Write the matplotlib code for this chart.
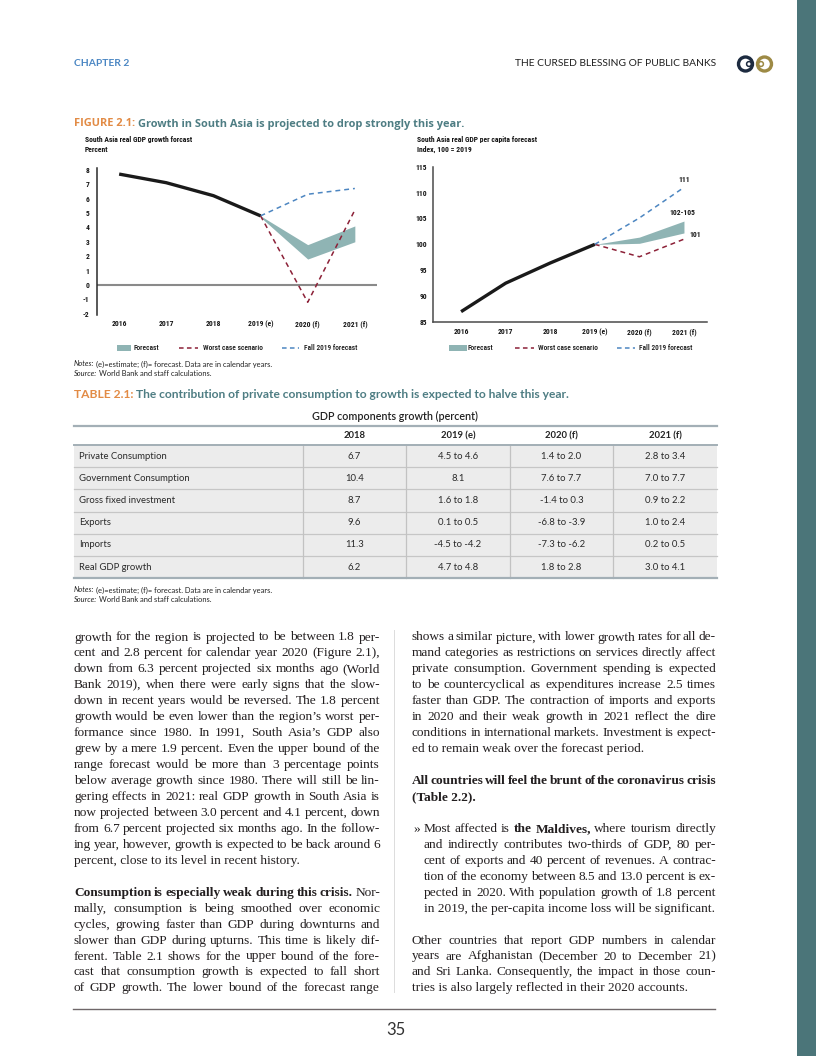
import matplotlib
matplotlib.use('Agg')
import matplotlib.pyplot as plt
from matplotlib import font_manager
from matplotlib.font_manager import FontProperties
from matplotlib.patches import Rectangle, Circle

W, H = 816, 1056

# ---------------- data ----------------
years = [2016, 2017, 2018, 2019, 2020, 2021]
year_labels = ['2016', '2017', '2018', '2019 (e)', '2020 (f)', '2021 (f)']

growth_actual = [7.7, 7.1, 6.2, 4.8]          # 2016-2019
growth_fc_low = [4.7, 1.8, 3.0]               # 2019-2021
growth_fc_high = [4.8, 2.8, 4.1]
growth_worst = [4.8, -1.2, 5.2]
growth_fall2019 = [4.8, 6.3, 6.7]
growth_yticks = [-2, -1, 0, 1, 2, 3, 4, 5, 6, 7, 8]

pc_actual = [87.0, 92.5, 96.4, 100.0]
pc_fc_low = [100.0, 100.2, 102.2]
pc_fc_high = [100.0, 101.4, 104.5]
pc_worst = [100.0, 97.6, 101.0]
pc_fall2019 = [100.0, 105.1, 111.0]
pc_yticks = [85, 90, 95, 100, 105, 110, 115]
pc_end_labels = ['111', '102-105', '101']

legend_labels = ['Forecast', 'Worst case scenario', 'Fall 2019 forecast']

table_cols = ['2018', '2019 (e)', '2020 (f)', '2021 (f)']
table_rows = ['Private Consumption', 'Government Consumption', 'Gross fixed investment',
              'Exports', 'Imports', 'Real GDP growth']
val_2018 = ['6.7', '10.4', '8.7', '9.6', '11.3', '6.2']
val_2019 = ['4.5 to 4.6', '8.1', '1.6 to 1.8', '0.1 to 0.5', '-4.5 to -4.2', '4.7 to 4.8']
val_2020 = ['1.4 to 2.0', '7.6 to 7.7', '-1.4 to 0.3', '-6.8 to -3.9', '-7.3 to -6.2', '1.8 to 2.8']
val_2021 = ['2.8 to 3.4', '7.0 to 7.7', '0.9 to 2.2', '1.0 to 2.4', '0.2 to 0.5', '3.0 to 4.1']

left_par1 = [
    "growth for the region is projected to be between 1.8 per-",
    "cent and 2.8 percent for calendar year 2020 (Figure 2.1),",
    "down from 6.3 percent projected six months ago (World",
    "Bank 2019), when there were early signs that the slow-",
    "down in recent years would be reversed. The 1.8 percent",
    "growth would be even lower than the region\u2019s worst per-",
    "formance since 1980. In 1991, South Asia\u2019s GDP also",
    "grew by a mere 1.9 percent. Even the upper bound of the",
    "range forecast would be more than 3 percentage points",
    "below average growth since 1980. There will still be lin-",
    "gering effects in 2021: real GDP growth in South Asia is",
    "now projected between 3.0 percent and 4.1 percent, down",
    "from 6.7 percent projected six months ago. In the follow-",
    "ing year, however, growth is expected to be back around 6",
    "percent, close to its level in recent history.",
]
left_par2 = [
    "**Consumption is especially weak during this crisis.** Nor-",
    "mally, consumption is being smoothed over economic",
    "cycles, growing faster than GDP during downturns and",
    "slower than GDP during upturns. This time is likely dif-",
    "ferent. Table 2.1 shows for the upper bound of the fore-",
    "cast that consumption growth is expected to fall short",
    "of GDP growth. The lower bound of the forecast range",
]
right_par1 = [
    "shows a similar picture, with lower growth rates for all de-",
    "mand categories as restrictions on services directly affect",
    "private consumption. Government spending is expected",
    "to be countercyclical as expenditures increase 2.5 times",
    "faster than GDP. The contraction of imports and exports",
    "in 2020 and their weak growth in 2021 reflect the dire",
    "conditions in international markets. Investment is expect-",
    "ed to remain weak over the forecast period.",
]
right_par2 = [
    "**All countries will feel the brunt of the coronavirus crisis**",
    "**(Table 2.2).**",
]
right_bullet = [
    "Most affected is **the Maldives,** where tourism directly",
    "and indirectly contributes two-thirds of GDP, 80 per-",
    "cent of exports and 40 percent of revenues. A contrac-",
    "tion of the economy between 8.5 and 13.0 percent is ex-",
    "pected in 2020. With population growth of 1.8 percent",
    "in 2019, the per-capita income loss will be significant.",
]
right_par3 = [
    "Other countries that report GDP numbers in calendar",
    "years are Afghanistan (December 20 to December 21)",
    "and Sri Lanka. Consequently, the impact in those coun-",
    "tries is also largely reflected in their 2020 accounts.",
]

# ---------------- fonts ----------------
entries = font_manager.fontManager.ttflist
names = {f.name for f in entries}


def pick(cands, default):
    for c in cands:
        if c in names:
            return c
    return default


if 'Liberation Sans Narrow' in names:
    COND, CSTR = 'Liberation Sans Narrow', 'normal'
elif 'Roboto Condensed' in names:
    COND, CSTR = 'Roboto Condensed', 'normal'
elif any(f.name == 'DejaVu Sans' and 'condensed' in str(f.stretch) for f in entries):
    COND, CSTR = 'DejaVu Sans', 'condensed'
else:
    COND, CSTR = pick(['Roboto', 'Lato'], 'DejaVu Sans'), 'normal'
SANS = pick(['Lato', 'Open Sans', 'Noto Sans'], 'DejaVu Sans')
TITLE = pick(['Open Sans', 'Lato'], 'DejaVu Sans')
SERIF = pick(['Liberation Serif', 'DejaVu Serif'], 'DejaVu Serif')

ORANGE = '#e28b45'
TEAL = '#4e7d83'
INK = '#231f20'
BAND = '#8fb4b4'
WORST = '#8c2138'
FALL = '#4d86c1'
CTXT = '#151515'

# ---------------- figure / page ----------------
fig = plt.figure(figsize=(W / 100, H / 100), dpi=100)
fig.patch.set_facecolor('white')
page = fig.add_axes([0, 0, 1, 1])
page.set_xlim(0, W)
page.set_ylim(H, 0)
page.axis('off')
R = fig.canvas.get_renderer()


def tw(t):
    return t.get_window_extent(R).width


_sp = {}


def space_w(size, fam, weight, stretch):
    key = (round(size, 3), fam, weight, stretch)
    if key not in _sp:
        a = page.text(0, 0, 'x x', fontsize=size, family=fam, weight=weight, stretch=stretch)
        b = page.text(0, 0, 'xx', fontsize=size, family=fam, weight=weight, stretch=stretch)
        _sp[key] = tw(a) - tw(b)
        a.remove()
        b.remove()
    return _sp[key]


def group_tokens(tokens):
    out = []
    for w, kw in tokens:
        if out and out[-1][1] == kw:
            out[-1] = (out[-1][0] + ' ' + w, kw)
        else:
            out.append((w, dict(kw)))
    return out


def draw_words(x, y, tokens, size, fam, color=INK, x1=None, justify=False, fit=None,
               ha='left', va='baseline', stretch='normal'):
    if not justify:
        tokens = group_tokens(tokens)

    def make(sz):
        objs = []
        for w, kw in tokens:
            objs.append(page.text(0, y, w, fontsize=sz, family=fam, stretch=stretch,
                                  weight=kw.get('weight', 'normal'),
                                  style=kw.get('style', 'normal'),
                                  color=kw.get('color', color), va=va, ha='left'))
        return objs

    def measure(objs, sz):
        widths = [tw(t) for t in objs]
        sps = [space_w(sz, fam, kw.get('weight', 'normal'), stretch) for _, kw in tokens]
        return widths, sps, sum(widths) + sum(sps[1:])

    objs = make(size)
    widths, sps, natural = measure(objs, size)
    if fit:
        for t in objs:
            t.remove()
        size = size * fit / natural
        objs = make(size)
        widths, sps, natural = measure(objs, size)
    if justify and len(objs) > 1:
        g = (x1 - x - sum(widths)) / (len(objs) - 1)
        gaps = [g] * (len(objs) - 1)
        total = x1 - x
    else:
        gaps = sps[1:]
        total = natural
    cx = x - total if ha == 'right' else (x - total / 2 if ha == 'center' else x)
    for i, (t, w) in enumerate(zip(objs, widths)):
        t.set_x(cx)
        cx += w + (gaps[i] if i < len(gaps) else 0)
    return size


def parse(line, extra=None):
    toks = []
    for i, seg in enumerate(line.split('**')):
        for w in seg.split():
            kw = {'weight': 'bold' if i % 2 else 'normal'}
            if extra:
                kw.update(extra)
            toks.append((w, kw))
    return toks


def px_axes(l, t, r, b):
    return fig.add_axes([l / W, 1 - b / H, (r - l) / W, (b - t) / H])


# ---------------- page decorations ----------------
page.add_patch(Rectangle((797, 0), W - 797, H, color='#4b7579', lw=0))
draw_words(74, 64, [('CHAPTER', {'weight': 'bold'}), ('2', {'weight': 'bold'})], 7, SANS,
           color='#4a86c3', fit=55, va='center')
draw_words(716, 64, parse('THE CURSED BLESSING OF PUBLIC BANKS'), 7, SANS,
           color='#1f1f1f', fit=202, ha='right', va='center')
page.add_patch(Circle((745.5, 64), 7.0, fill=False, ec='#1d2b40', lw=2.4))
page.add_patch(Circle((764.5, 64), 7.0, fill=False, ec='#9d8a45', lw=2.4))
page.add_patch(Circle((749, 64), 2.4, fill=False, ec='#1d2b40', lw=1.1))
page.add_patch(Circle((761, 64), 2.4, fill=False, ec='#9d8a45', lw=1.1))

# figure title
ttl = [('FIGURE 2.1:', {'color': ORANGE, 'weight': 'bold'}),
       ('Growth in South Asia is projected to drop strongly this year.', {'color': TEAL, 'weight': 'bold'})]
draw_words(74, 124, ttl, 8, TITLE, fit=389, va='center')

# chart subtitles
ssz = draw_words(85, 139.5, parse('South Asia real GDP growth forcast', {'weight': 'bold'}), 7, COND,
                 stretch=CSTR, fit=109, va='center', color=CTXT)
draw_words(85, 149, parse('Percent', {'weight': 'bold'}), ssz, COND, stretch=CSTR, va='center',
           color=CTXT)
draw_words(417, 139.5, parse('South Asia real GDP per capita forecast', {'weight': 'bold'}), ssz, COND,
           stretch=CSTR, va='center', color=CTXT)
draw_words(417, 149, parse('Index, 100 = 2019', {'weight': 'bold'}), ssz, COND, stretch=CSTR,
           va='center', color=CTXT)

# legends (drawn on page)
LW = 'medium'
CS = draw_words(203, 347.5, parse(legend_labels[1], {'weight': LW}), 7, COND, stretch=CSTR, fit=59.5,
                va='center', color=CTXT)
draw_words(134, 347.5, parse(legend_labels[0], {'weight': LW}), CS, COND, stretch=CSTR, va='center', color=CTXT)
draw_words(304, 347.5, parse(legend_labels[2], {'weight': LW}), CS, COND, stretch=CSTR, va='center', color=CTXT)
page.add_patch(Rectangle((117, 344.5), 14, 6, color=BAND, lw=0))
page.plot([179, 198], [347.5, 347.5], color=WORST, lw=1.1, dashes=(3, 2.2))
page.plot([282, 299], [347.5, 347.5], color=FALL, lw=1.1, dashes=(3, 2.2))

draw_words(468, 348, parse(legend_labels[0], {'weight': LW}), CS, COND, stretch=CSTR, va='center', color=CTXT)
draw_words(538, 348, parse(legend_labels[1], {'weight': LW}), CS, COND, stretch=CSTR, va='center', color=CTXT)
draw_words(639, 348, parse(legend_labels[2], {'weight': LW}), CS, COND, stretch=CSTR, va='center', color=CTXT)
page.add_patch(Rectangle((449, 345), 18, 6, color=BAND, lw=0))
page.plot([515, 534], [348, 348], color=WORST, lw=1.1, dashes=(3, 2.2))
page.plot([617, 635], [348, 348], color=FALL, lw=1.1, dashes=(3, 2.2))

# figure notes
NS = draw_words(74, 364, [('Notes:', {'style': 'italic'})] + parse('(e)=estimate; (f)= forecast. Data are in calendar years.'),
                6, SANS, fit=200, va='center', color='#222222')
draw_words(74, 373, [('Source:', {'style': 'italic'})] + parse('World Bank and staff calculations.'),
           NS, SANS, va='center', color='#222222')

# ---------------- chart fonts ----------------
probe = page.text(0, 0, '2019 (e)', fontsize=10, family=COND, stretch=CSTR, weight='bold')
TK = 10 * 25.5 / tw(probe)
probe.remove()
cfp = FontProperties(family=COND, stretch=CSTR, size=TK, weight='bold')

# ---------------- left chart ----------------
ax1 = px_axes(97, 167.6, 377, 314.5)
ax1.set_facecolor('none')
ax1.set_xlim(2015.53, 2021.47)
ax1.set_ylim(-2.05, 8.15)
for s in ['top', 'right', 'bottom']:
    ax1.spines[s].set_visible(False)
ax1.spines['left'].set_color('#2a2a2a')
ax1.spines['left'].set_linewidth(1.1)
ax1.axhline(0, color='#8a8a8a', lw=1.5, zorder=1)
ax1.fill_between(years[3:], growth_fc_low, growth_fc_high, color=BAND, lw=0, zorder=2)
ax1.plot(years[:4], growth_actual, color='#1a1a1a', lw=2.4, zorder=4, solid_capstyle='butt')
ax1.plot(years[3:], growth_worst, color=WORST, lw=1.1, dashes=(3.2, 2.6), zorder=3)
ax1.plot(years[3:], growth_fall2019, color=FALL, lw=1.1, dashes=(3.2, 2.6), zorder=3)
ax1.set_xticks(years)
ax1.set_xticklabels(year_labels, fontproperties=cfp, color=CTXT)
ax1.set_yticks(growth_yticks)
ax1.set_yticklabels([str(v) for v in growth_yticks], fontproperties=cfp, color=CTXT)
ax1.tick_params(axis='x', length=0, pad=4.0)
ax1.tick_params(axis='y', length=0, pad=5.5)

# ---------------- right chart ----------------
ax2 = px_axes(433, 166.7, 706.7, 322)
ax2.set_facecolor('none')
ax2.set_xlim(2015.37, 2021.51)
ax2.set_ylim(85, 115)
for s in ['top', 'right']:
    ax2.spines[s].set_visible(False)
for s in ['left', 'bottom']:
    ax2.spines[s].set_color('#4a4a4a')
    ax2.spines[s].set_linewidth(1.1)
ax2.fill_between(years[3:], pc_fc_low, pc_fc_high, color=BAND, lw=0, zorder=2)
ax2.plot(years[:4], pc_actual, color='#1a1a1a', lw=2.4, zorder=4, solid_capstyle='butt')
ax2.plot(years[3:], pc_worst, color=WORST, lw=1.1, dashes=(3.2, 2.6), zorder=3)
ax2.plot(years[3:], pc_fall2019, color=FALL, lw=1.1, dashes=(3.2, 2.6), zorder=3)
ax2.set_xticks(years)
ax2.set_xticklabels(year_labels, fontproperties=cfp, color=CTXT)
ax2.set_yticks(pc_yticks)
ax2.set_yticklabels([str(v) for v in pc_yticks], fontproperties=cfp, color=CTXT)
ax2.tick_params(axis='x', length=0, pad=4.5)
ax2.tick_params(axis='y', length=0, pad=4.5)
ax2.annotate(pc_end_labels[0], (years[-1], pc_fall2019[-1]), xytext=(0, 3.5), textcoords='offset points',
             ha='center', va='bottom', fontproperties=cfp, color=CTXT)
ax2.annotate(pc_end_labels[1], (years[-1], pc_fc_high[-1]), xytext=(-1, 3.5), textcoords='offset points',
             ha='center', va='bottom', fontproperties=cfp, color=CTXT)
ax2.annotate(pc_end_labels[2], (years[-1], pc_worst[-1]), xytext=(4, 1), textcoords='offset points',
             ha='left', va='bottom', fontproperties=cfp, color=CTXT)

# ---------------- table ----------------
tt = [('TABLE 2.1:', {'color': ORANGE, 'weight': 'bold'}),
      ('The contribution of private consumption to growth is expected to halve this year.',
       {'color': TEAL, 'weight': 'bold'})]
draw_words(74, 395, tt, 8, SANS, fit=497, va='center')
draw_words(395, 416, parse('GDP components growth (percent)', {'weight': 'semibold'}), 7.5, SANS,
           fit=164, ha='center', va='center', color='#222222')

col_edges = [74, 303, 406, 510, 613, 717]
row_top, row_h = 445.0, 22.2
tbot = row_top + row_h * len(table_rows)
page.add_patch(Rectangle((74, row_top), 717 - 74, tbot - row_top, color='#ececec', lw=0))
for k in range(1, len(table_rows)):
    yy = row_top + k * row_h
    page.plot([74, 717], [yy, yy], color='#c6c6c6', lw=0.9)
for xe in col_edges[1:-1]:
    page.plot([xe, xe], [row_top, tbot], color='#c2c2c2', lw=0.9)
page.plot([74, 717], [426, 426], color='#a3afb6', lw=1.6)
page.plot([74, 717], [row_top, row_top], color='#a3afb6', lw=1.4)
page.plot([74, 717], [tbot, tbot], color='#a3afb6', lw=1.6)

probe = page.text(0, 0, table_rows[1], fontsize=10, family=SANS)
TS = 10 * 110.7 / tw(probe)
probe.remove()
centers = [(col_edges[i] + col_edges[i + 1]) / 2 for i in range(1, 5)]
for c, lab in zip(centers, table_cols):
    page.text(c, 435.5, lab, fontsize=TS, family=SANS, weight='bold', ha='center', va='center',
              color='#222222')
cols_vals = [val_2018, val_2019, val_2020, val_2021]
for i, lab in enumerate(table_rows):
    yc = row_top + (i + 0.5) * row_h
    page.text(79, yc, lab, fontsize=TS, family=SANS, ha='left', va='center', color='#2a2a2a')
    for c, vals in zip(centers, cols_vals):
        page.text(c, yc, vals[i], fontsize=TS, family=SANS, ha='center', va='center', color='#2a2a2a')

draw_words(74, 590, [('Notes:', {'style': 'italic'})] + parse('(e)=estimate; (f)= forecast. Data are in calendar years.'),
           NS, SANS, va='center', color='#222222')
draw_words(74, 599.5, [('Source:', {'style': 'italic'})] + parse('World Bank and staff calculations.'),
           NS, SANS, va='center', color='#222222')

# ---------------- body text ----------------
BS = 9.6
LH = 15.95
Y0 = 640.5


def paragraph(lines, x0, x1, k0, last_justified=False, extra=None):
    for j, ln in enumerate(lines):
        last = (j == len(lines) - 1)
        draw_words(x0, Y0 + (k0 + j) * LH, parse(ln, extra), BS, SERIF, color=INK,
                   x1=x1, justify=(not last) or last_justified)


paragraph(left_par1, 74, 380, 0)
paragraph(left_par2, 74, 380, 16, last_justified=True)
paragraph(right_par1, 412, 716, 0)
paragraph(right_par2, 412, 716, 9)
page.text(413, Y0 + 12 * LH, '\u00bb', fontsize=BS, family=SERIF, color=INK, va='baseline')
paragraph(right_bullet, 423.5, 716, 12)
paragraph(right_par3, 412, 716, 19)

# column separator and bottom rule
page.plot([394, 394], [630, 992], color='#dcdcdc', lw=0.7)
page.plot([73, 715], [1009, 1009], color='#6f6769', lw=1.0)
page.text(395.5, 1030, '35', fontsize=12, family=SANS, ha='center', va='center', color='#333333')

fig.savefig('out.png', dpi=100, facecolor='white')
